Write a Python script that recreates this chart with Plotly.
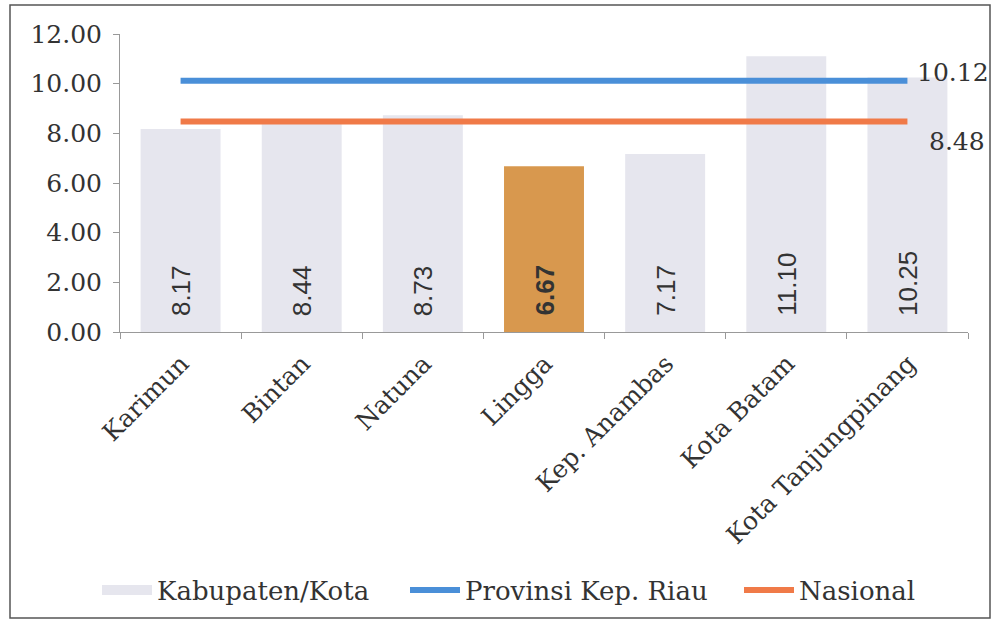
import plotly.graph_objects as go

# Data
kabupaten = ["Karimun", "Bintan", "Natuna", "Lingga", "Kep. Anambas", "Kota Batam", "Kota Tanjungpinang"]
nilai_kabupaten = [8.17, 8.44, 8.73, 6.67, 7.17, 11.10, 10.25]
provinsi = [10.12, 10.12, 10.12, 10.12, 10.12, 10.12, 10.12]
nasional = [8.48, 8.48, 8.48, 8.48, 8.48, 8.48, 8.48]
y_ticks = [0, 2, 4, 6, 8, 10, 12]

W, H = 995, 623
L, R, T, B = 120, 27, 34, 291
pw, ph = W - L - R, H - T - B

SERIF = "DejaVu Serif"
SANS = "Liberation Sans, Arial"
TXT = "#333333"
BAR_GREY = "#e6e6ee"

bar_colors = ["#d8984e" if k == "Lingga" else BAR_GREY for k in kabupaten]

fig = go.Figure()
fig.add_trace(go.Bar(
    x=kabupaten, y=nilai_kabupaten, name="Kabupaten/Kota",
    marker=dict(color=bar_colors, line=dict(width=0)), showlegend=False,
))
# Legend entry for the bars drawn as a wide swatch
fig.add_trace(go.Scatter(
    x=[None], y=[None], name="Kabupaten/Kota", mode="lines",
    line=dict(color=BAR_GREY, width=11), legend="legend",
))
fig.add_trace(go.Scatter(
    x=kabupaten, y=provinsi, name="Provinsi Kep. Riau", mode="lines",
    line=dict(color="#4a8fd8", width=6), legend="legend2",
))
fig.add_trace(go.Scatter(
    x=kabupaten, y=nasional, name="Nasional", mode="lines",
    line=dict(color="#f07a48", width=6), legend="legend3",
))

annotations = []
# Value labels rotated inside each bar, near the base
for k, v in zip(kabupaten, nilai_kabupaten):
    bold = k == "Lingga"
    annotations.append(dict(
        x=k, y=0, xref="x", yref="y", text=(f"<b>{v:.2f}</b>" if bold else f"{v:.2f}"),
        textangle=-90, showarrow=False, xanchor="center", yanchor="bottom", yshift=14,
        font=dict(family=SANS, size=26, color=TXT),
    ))
# End labels for the reference lines
annotations.append(dict(
    x=kabupaten[-1], y=provinsi[-1], xref="x", yref="y", text=f"{provinsi[-1]:.2f}",
    showarrow=False, xanchor="left", yanchor="middle", xshift=8, yshift=8,
    font=dict(family=SERIF, size=25, color=TXT),
))
annotations.append(dict(
    x=kabupaten[-1], y=nasional[-1], xref="x", yref="y", text=f"{nasional[-1]:.2f}",
    showarrow=False, xanchor="left", yanchor="middle", xshift=20, yshift=-20,
    font=dict(family=SERIF, size=25, color=TXT),
))

# Outer frame around the whole chart
px = lambda x: (x - L) / pw
py = lambda y: (H - B - y) / ph
shapes = [dict(
    type="rect", xref="paper", yref="paper",
    x0=px(10), x1=px(990), y0=py(618), y1=py(5),
    line=dict(color="#555555", width=1.5), fillcolor="rgba(0,0,0,0)", layer="below",
)]


def legend_at(left_px):
    return dict(
        orientation="h", xref="container", yref="container",
        x=left_px / W, xanchor="left", y=(H - 590) / H, yanchor="middle",
        font=dict(family=SERIF, size=26, color=TXT), bgcolor="rgba(0,0,0,0)",
        itemwidth=50,
    )


fig.update_layout(
    template="none",
    width=W, height=H,
    margin=dict(l=L, r=R, t=T, b=B, autoexpand=False),
    paper_bgcolor="white", plot_bgcolor="white",
    bargap=0.34,
    showlegend=True,
    legend=legend_at(97),
    legend2=legend_at(405),
    legend3=legend_at(739),
    xaxis=dict(
        type="category", range=[-0.5, 6.5], tickangle=-45, ticks="outside",
        tickson="boundaries", ticklen=6, tickcolor="#999999",
        showline=True, linecolor="#999999", linewidth=1,
        showgrid=False, zeroline=False, automargin=False,
        ticklabelshift=1, ticklabelstandoff=6,
        tickfont=dict(family=SERIF, size=25, color=TXT),
    ),
    yaxis=dict(
        range=[0, 12], tickvals=y_ticks, tickformat=".2f", ticks="outside", ticklen=6,
        tickcolor="#999999", showline=True, linecolor="#999999", linewidth=1,
        showgrid=False, zeroline=False, automargin=False, ticklabelstandoff=6,
        tickfont=dict(family=SERIF, size=25, color=TXT),
    ),
    annotations=annotations,
    shapes=shapes,
)

fig.write_html("out.html")
